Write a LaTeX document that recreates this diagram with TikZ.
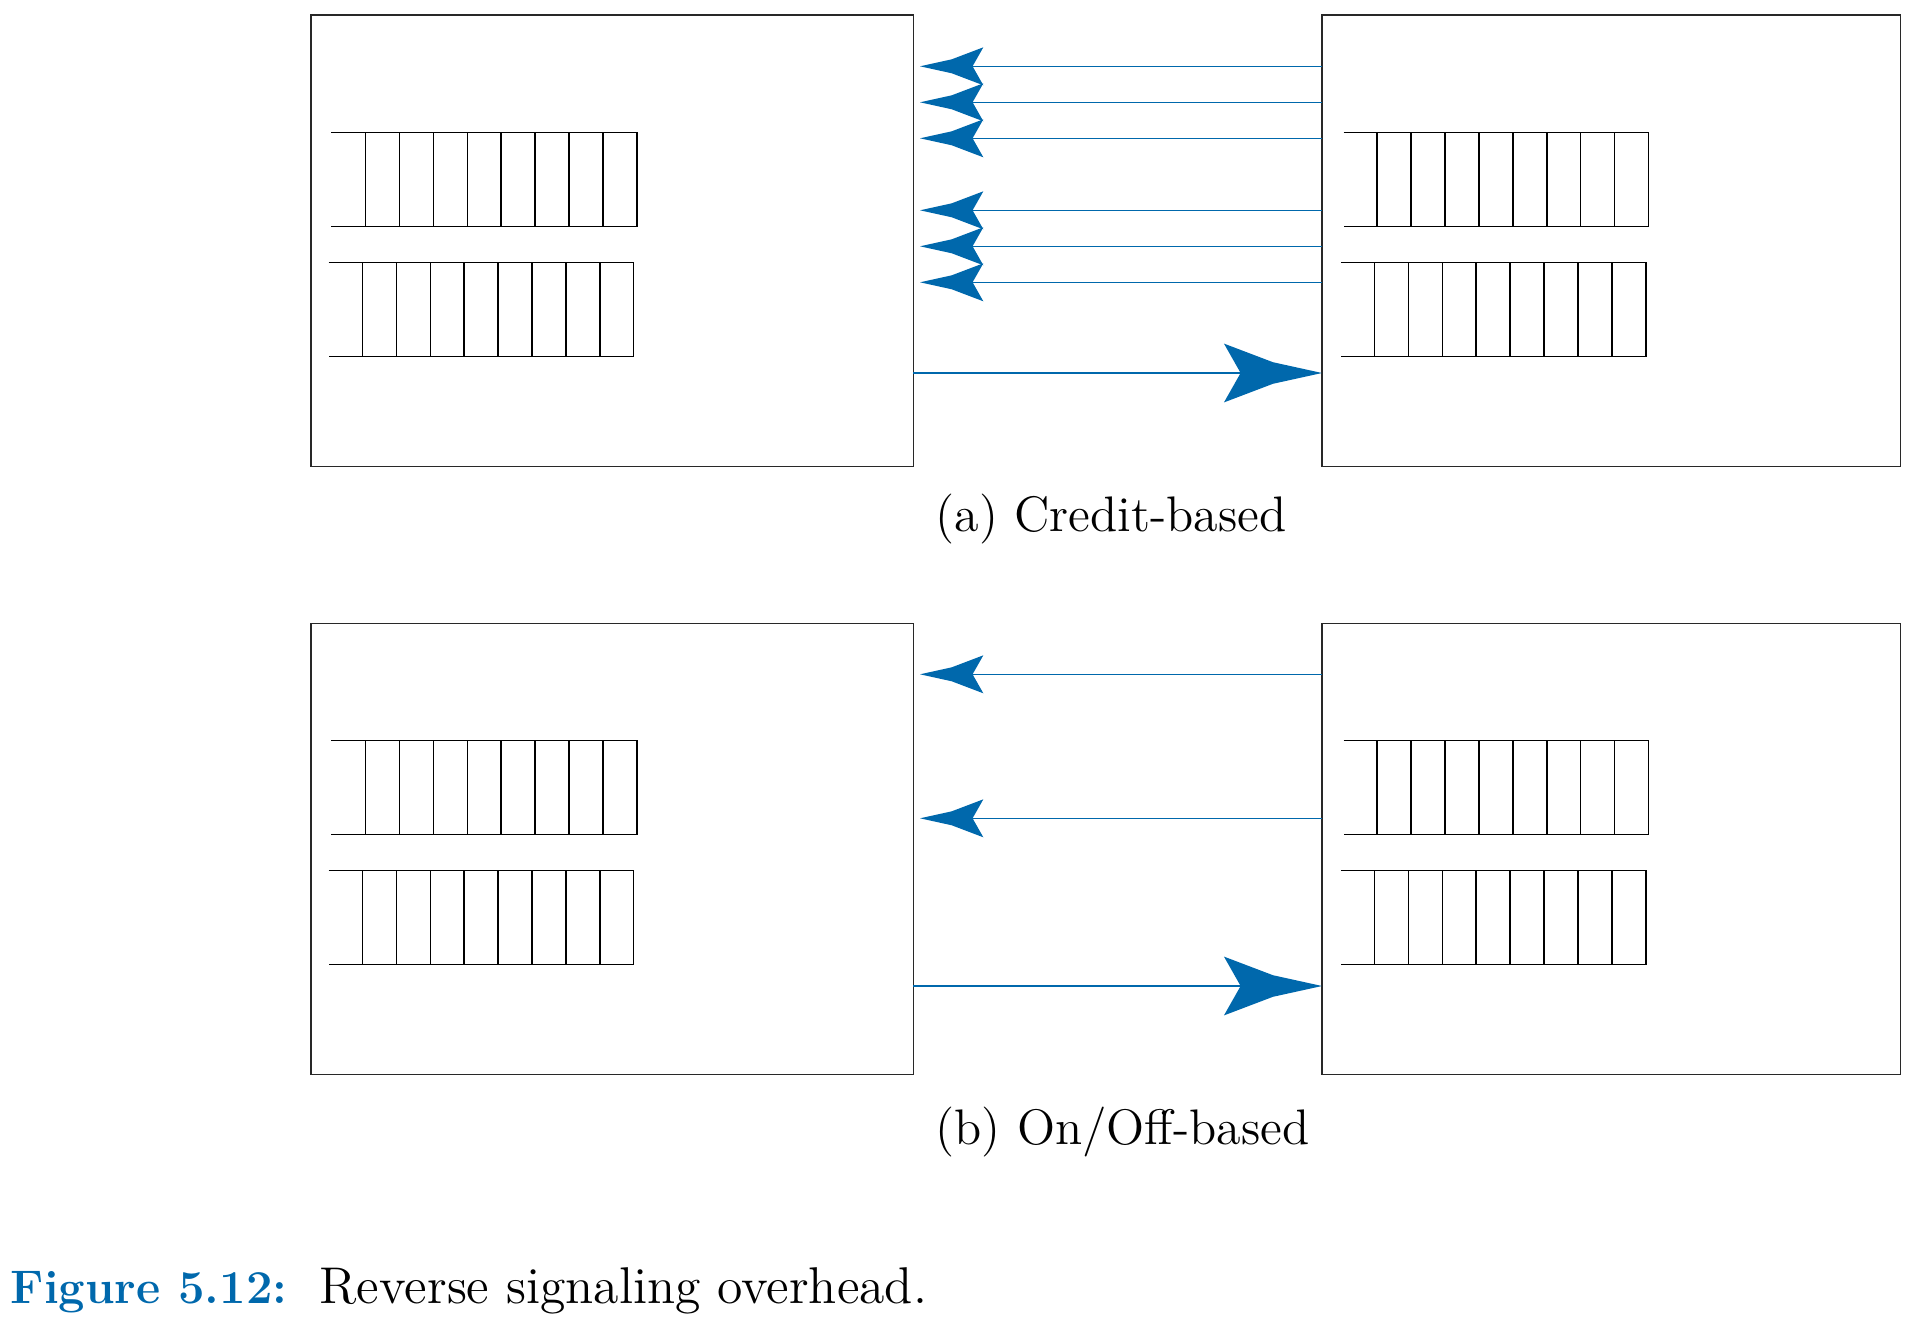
\documentclass[tikz,border=0pt]{standalone}
\usetikzlibrary{arrows.meta}
\definecolor{sigblue}{RGB}{0,104,172}
\definecolor{boxgray}{RGB}{40,40,40}
\pgfdeclarearrow{
  name = Kite,
  parameters = {\the\pgfarrowlength},
  setup code = {%
    \pgfarrowssettipend{0pt}%
    \pgfarrowssetlineend{-0.8\pgfarrowlength}%
    \pgfarrowssetbackend{-\pgfarrowlength}%
    \pgfarrowshullpoint{0pt}{0pt}%
    \pgfarrowshullpoint{-\pgfarrowlength}{0.3\pgfarrowlength}%
    \pgfarrowshullpoint{-\pgfarrowlength}{-0.3\pgfarrowlength}%
    \pgfarrowssavethe\pgfarrowlength
  },
  drawing code = {%
    \pgfpathmoveto{\pgfpointorigin}%
    \pgfpathlineto{\pgfpoint{-0.5\pgfarrowlength}{0.11\pgfarrowlength}}%
    \pgfpathlineto{\pgfpoint{-\pgfarrowlength}{0.3\pgfarrowlength}}%
    \pgfpathlineto{\pgfpoint{-0.83\pgfarrowlength}{0pt}}%
    \pgfpathlineto{\pgfpoint{-\pgfarrowlength}{-0.3\pgfarrowlength}}%
    \pgfpathlineto{\pgfpoint{-0.5\pgfarrowlength}{-0.11\pgfarrowlength}}%
    \pgfpathclose
    \pgfusepathqfill
  },
  defaults = {length = 10pt}
}
\newcommand\qrow[3]{%
  \draw[qline] (#1,#3) -- ({#2+8*33.9},#3) -- ({#2+8*33.9},{#3+94}) -- (#1,{#3+94});
  \foreach \k in {0,...,7} \draw[qline] ({#2+\k*33.9},#3) -- ({#2+\k*33.9},{#3+94});
}
\begin{document}
\begin{tikzpicture}[x=0.01cm,y=-0.01cm,
  boxnode/.style={draw=boxgray, line width=0.4pt, inner sep=0pt, outer sep=0pt, anchor=north west, minimum height=4.51cm},
  sig/.style={draw=sigblue, line width=0.4pt, -{Kite[length=0.633cm]}},
  sigf/.style={draw=sigblue, line width=0.4pt, -{Kite[length=0.98cm]}},
  qline/.style={draw=black, line width=0.45pt},
  sublabel/.style={anchor=base west, inner sep=0pt, font=\fontsize{14.2}{17}\selectfont},
]
\useasboundingbox (0,0) rectangle (1921,1330);

% ---------- panel (a) ----------
\node[boxnode, minimum width=6.02cm] (LA) at (311,15) {};
\node[boxnode, minimum width=5.78cm] (RA) at (1322,15) {};
\qrow{331.25}{365.6}{132.3}
\qrow{328.6}{362.5}{262.3}
\qrow{1343.6}{1377.2}{132.3}
\qrow{1340.8}{1374.5}{262.3}
\foreach \y [count=\i] in {66.3,102.3,138.3,210.3,246.3,282.3}{
  \coordinate (ca\i) at (920,\y);
  \draw[sig] (RA.west |- ca\i) -- (ca\i);
}
\coordinate (fa) at (0,373);
\draw[sigf] (LA.east |- fa) -- (RA.west |- fa);
\node[sublabel] (capa) at (935,531) {(a) Credit-based};

% ---------- panel (b) ----------
\node[boxnode, minimum width=6.02cm] (LB) at (311,623.3) {};
\node[boxnode, minimum width=5.78cm] (RB) at (1322,623.3) {};
\qrow{331.25}{365.6}{740.3}
\qrow{328.6}{362.5}{870.3}
\qrow{1343.6}{1377.2}{740.3}
\qrow{1340.8}{1374.5}{870.3}
\foreach \y [count=\i] in {674.3,818.3}{
  \coordinate (cb\i) at (920,\y);
  \draw[sig] (RB.west |- cb\i) -- (cb\i);
}
\coordinate (fb) at (0,986);
\draw[sigf] (LB.east |- fb) -- (RB.west |- fb);
\node[sublabel] (capb) at (935,1144) {(b) On/Off-based};

% ---------- caption ----------
\node[anchor=base west, inner sep=0pt, text=sigblue, font=\fontsize{13.4}{16}\selectfont\bfseries] (fig) at (10,1303) {Figure 5.12:};
\node[anchor=base west, inner sep=0pt, font=\fontsize{14.7}{18}\selectfont] (figtext) at (319,1303) {Reverse signaling overhead.};
\end{tikzpicture}
\end{document}
